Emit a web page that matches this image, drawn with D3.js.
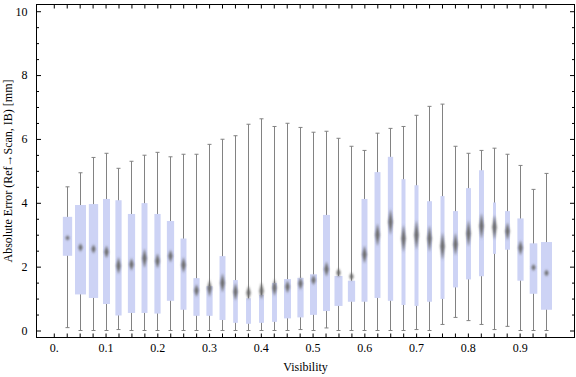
<!DOCTYPE html>
<html>
<head>
<meta charset="utf-8">
<script src="https://cdn.jsdelivr.net/npm/d3@7"></script>
<style>
  body { margin: 0; background: #fff; }
  svg text { font-family: "Liberation Serif", "DejaVu Serif", serif; font-size: 12px; fill: #000; }
</style>
</head>
<body>
<svg id="chart" width="576" height="377"></svg>
<script>
// visibility bins (x categories)
const visibility = [0.025, 0.05, 0.075, 0.1, 0.125, 0.15, 0.175, 0.2, 0.225, 0.25,
  0.275, 0.3, 0.325, 0.35, 0.375, 0.4, 0.425, 0.45, 0.475, 0.5,
  0.525, 0.55, 0.575, 0.6, 0.625, 0.65, 0.675, 0.7, 0.725, 0.75,
  0.775, 0.8, 0.825, 0.85, 0.875, 0.9, 0.925, 0.95]

const whiskerHigh = [4.50, 4.94, 5.42, 5.55, 5.08, 5.30, 5.49, 5.58, 5.44, 5.52,
  5.52, 5.83, 5.99, 6.10, 6.46, 6.63, 6.39, 6.49, 6.36, 6.21,
  6.24, 6.02, 5.77, 5.64, 6.18, 6.33, 6.39, 6.74, 7.02, 7.09,
  5.77, 5.55, 5.64, 5.71, 5.52, 5.17, 4.42, 4.92]
const upperQuartile = [3.56, 3.93, 3.96, 4.12, 4.08, 3.65, 3.99, 3.65, 3.43, 2.88,
  1.64, 1.39, 2.33, 1.58, 1.01, 1.12, 1.49, 1.61, 1.65, 1.76,
  3.62, 1.71, 1.56, 4.12, 4.96, 5.44, 4.74, 4.55, 4.05, 4.21,
  3.74, 4.46, 5.02, 4.01, 3.74, 3.51, 2.73, 2.77]
const median = [2.90, 2.60, 2.55, 2.46, 2.03, 2.07, 2.26, 2.18, 2.33, 2.05,
  1.25, 1.32, 1.49, 1.21, 1.18, 1.24, 1.34, 1.37, 1.47, 1.58,
  1.92, 1.81, 1.69, 2.38, 3.00, 3.40, 2.88, 2.99, 2.88, 2.64,
  2.70, 3.04, 3.27, 3.23, 3.11, 2.59, 1.97, 1.80]
const lowerQuartile = [2.34, 1.13, 1.02, 0.83, 0.47, 0.55, 0.55, 0.53, 0.93, 0.65,
  0.46, 0.46, 0.33, 0.24, 0.21, 0.24, 0.27, 0.38, 0.41, 0.49,
  0.61, 0.77, 0.90, 0.90, 1.02, 0.93, 0.80, 0.77, 0.90, 0.99,
  1.35, 1.60, 1.70, 2.40, 2.53, 1.56, 1.15, 0.65]
const whiskerLow = [0.09, 0, 0, 0, 0.03, 0, 0, 0, 0, 0,
  0, 0, 0, 0, 0, 0, 0, 0, 0.03, 0,
  0.08, 0, 0, 0, 0, 0, 0, 0.03, 0, 0.19,
  0.41, 0.31, 0.19, 0.03, 0.13, 0, 0, 0]
// median confidence half-range (notch), in mm
const notch = [0.08, 0.13, 0.14, 0.20, 0.27, 0.20, 0.31, 0.24, 0.20, 0.25,
  0.20, 0.27, 0.30, 0.28, 0.22, 0.27, 0.27, 0.20, 0.20, 0.16,
  0.24, 0.14, 0.13, 0.28, 0.36, 0.41, 0.44, 0.47, 0.42, 0.44,
  0.36, 0.42, 0.41, 0.39, 0.28, 0.24, 0.11, 0.11]
// relative sample weight of each bin (box width share)
const weight = [0.72, 0.85, 0.72, 0.54, 0.48, 0.56, 0.46, 0.48, 0.56, 0.46,
  0.48, 0.48, 0.46, 0.36, 0.38, 0.38, 0.38, 0.54, 0.48, 0.54,
  0.54, 0.62, 0.56, 0.46, 0.46, 0.41, 0.31, 0.31, 0.38, 0.31,
  0.38, 0.38, 0.38, 0.23, 0.38, 0.48, 0.59, 0.85]

const xTickValues = [0, 0.1, 0.2, 0.3, 0.4, 0.5, 0.6, 0.7, 0.8, 0.9]
const xTickLabels = ["0.", "0.1", "0.2", "0.3", "0.4", "0.5", "0.6", "0.7", "0.8", "0.9"]
const xMinorTicks = [0].concat(visibility)
const yTickValues = [0, 2, 4, 6, 8, 10]
const yMinorTicks = [0.5, 1, 1.5, 2.5, 3, 3.5, 4.5, 5, 5.5, 6.5, 7, 7.5, 8.5, 9, 9.5]

const data = visibility.map((v, i) => ({
  x: v, lo: whiskerLow[i], q1: lowerQuartile[i], med: median[i],
  q3: upperQuartile[i], hi: whiskerHigh[i], notch: notch[i], w: weight[i]
}))

const margin = { top: 4.5, right: 1.5, bottom: 39.5, left: 36.5 }
const width = 576
const height = 377

const svg = d3.select("#chart")

const xScale = d3.scaleLinear().domain([-0.0334, 1.006]).range([margin.left, width - margin.right])
const yScale = d3.scaleLinear().domain([-0.219, 10.21]).range([height - margin.bottom, margin.top])
const step = xScale(0.025) - xScale(0)

const defs = svg.append("defs")
defs.append("filter").attr("id", "soft")
  .attr("x", "-100%").attr("y", "-50%").attr("width", "300%").attr("height", "200%")
  .append("feGaussianBlur").attr("stdDeviation", 0.9)

const boxes = svg.append("g").selectAll("g")
  .data(data)
  .join("g")
  .attr("transform", d => `translate(${Math.round(xScale(d.x)) + 0.5},0)`)

// whiskers
boxes.append("line")
  .attr("y1", d => yScale(d.lo))
  .attr("y2", d => yScale(d.hi))
  .attr("stroke", "#828282")
  .attr("stroke-width", 1)

boxes.append("line")
  .attr("x1", -2).attr("x2", 2)
  .attr("y1", d => yScale(d.hi)).attr("y2", d => yScale(d.hi))
  .attr("stroke", "#828282")

boxes.append("line")
  .attr("x1", -2).attr("x2", 2)
  .attr("y1", d => yScale(d.lo)).attr("y2", d => yScale(d.lo))
  .attr("stroke", "#828282")

// boxes
boxes.append("rect")
  .attr("x", d => -d.w * step / 2)
  .attr("width", d => d.w * step)
  .attr("y", d => yScale(d.q3))
  .attr("height", d => yScale(d.q1) - yScale(d.q3))
  .attr("fill", "#cdd3f5")

// median diamonds
boxes.append("path")
  .attr("d", d => {
    const m = yScale(d.med)
    const h = Math.max(2.5, yScale(d.med - d.notch) - m)
    const hw = 2.2
    return `M0,${m - h}L${hw},${m}L0,${m + h}L${-hw},${m}Z`
  })
  .attr("fill", "#6a6a6a")
  .attr("filter", "url(#soft)")

// frame
svg.append("rect")
  .attr("x", margin.left).attr("y", margin.top)
  .attr("width", width - margin.left - margin.right)
  .attr("height", height - margin.top - margin.bottom)
  .attr("fill", "none").attr("stroke", "#000")

function clean(g) {
  g.select(".domain").remove()
  g.selectAll(".tick line").attr("stroke", "#000")
}

const bottom = height - margin.bottom
const right = width - margin.right

// x ticks bottom and top (inward)
svg.append("g").attr("transform", `translate(0,${bottom})`)
  .call(d3.axisBottom(xScale).tickValues(xMinorTicks).tickSize(-4).tickFormat(""))
  .call(clean)
svg.append("g").attr("transform", `translate(0,${margin.top})`)
  .call(d3.axisTop(xScale).tickValues(xMinorTicks).tickSize(-4).tickFormat(""))
  .call(clean)

// x labels
svg.append("g").attr("transform", `translate(0,${bottom})`)
  .call(d3.axisBottom(xScale).tickValues(xTickValues).tickSize(0).tickPadding(6)
    .tickFormat((d, i) => xTickLabels[i]))
  .call(clean)
  .selectAll("text").attr("font-family", null).attr("font-size", null)

// y ticks left
svg.append("g").attr("transform", `translate(${margin.left},0)`)
  .call(d3.axisLeft(yScale).tickValues(yTickValues).tickSize(-4.5).tickPadding(9))
  .call(clean)
  .selectAll("text").attr("font-family", null).attr("font-size", null)
svg.append("g").attr("transform", `translate(${margin.left},0)`)
  .call(d3.axisLeft(yScale).tickValues(yMinorTicks).tickSize(-2.5).tickFormat(""))
  .call(clean)

// y ticks right
svg.append("g").attr("transform", `translate(${right},0)`)
  .call(d3.axisRight(yScale).tickValues(yTickValues).tickSize(-4.5).tickFormat(""))
  .call(clean)
svg.append("g").attr("transform", `translate(${right},0)`)
  .call(d3.axisRight(yScale).tickValues(yMinorTicks).tickSize(-2.5).tickFormat(""))
  .call(clean)

// axis titles
svg.append("text")
  .attr("x", (margin.left + right) / 2)
  .attr("y", 371)
  .attr("text-anchor", "middle")
  .text("Visibility")

svg.append("text")
  .attr("transform", `translate(12,${(margin.top + bottom) / 2}) rotate(-90)`)
  .attr("text-anchor", "middle")
  .text("Absolute Error (Ref\u2192Scan, IB) [mm]")
</script>
</body>
</html>
